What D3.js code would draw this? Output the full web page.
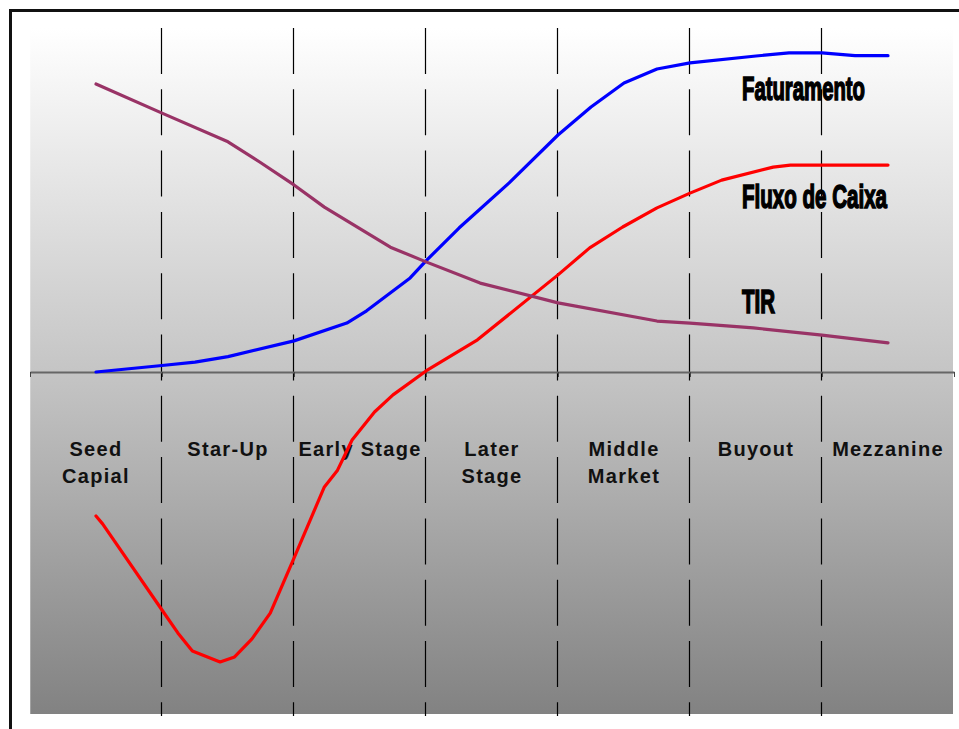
<!DOCTYPE html>
<html>
<head>
<meta charset="utf-8">
<script src="https://cdn.jsdelivr.net/npm/d3@7"></script>
<style>
  body { margin: 0; background: #fff; }
</style>
</head>
<body>
<script>
const stages = ["Seed\nCapial", "Star-Up", "Early Stage", "Later\nStage", "Middle\nMarket", "Buyout", "Mezzanine"];

// positions are in stage units (0.5 = middle of the first stage)
const fatPos = [0.5, 1.0, 1.25, 1.5, 2.0, 2.4, 2.55, 2.88, 3.0, 3.25, 3.63, 4.0, 4.25, 4.5, 4.75, 5.0, 5.5, 5.75, 6.0, 6.25, 6.5];
const fatVal = [0, 1.9, 2.9, 4.5, 9.1, 14.3, 17.9, 27.5, 32.5, 42.1, 55.3, 69.3, 77.5, 84.5, 88.6, 90.4, 92.4, 93.3, 93.3, 92.5, 92.5];

const caixaPos = [0.5, 0.55, 1.0, 1.12, 1.23, 1.44, 1.55, 1.68, 1.82, 2.0, 2.23, 2.33, 2.44, 2.61, 2.75, 3.0, 3.39, 4.0, 4.24, 4.49, 4.75, 5.0, 5.24, 5.63, 5.76, 6.5];
const caixaVal = [-42.1, -44.4, -69.6, -76.3, -81.6, -84.8, -83.3, -78.1, -70.5, -54.4, -33.6, -28.7, -19.9, -11.7, -6.7, 0.3, 9.4, 28.4, 36.3, 42.4, 48.0, 52.3, 56.1, 59.9, 60.5, 60.5];

const tirPos = [0.5, 1.0, 1.5, 1.74, 2.0, 2.23, 2.73, 3.0, 3.41, 4.0, 4.75, 5.0, 5.48, 6.0, 6.5];
const tirVal = [84.2, 75.7, 67.3, 61.4, 54.7, 48.2, 36.5, 32.2, 26.0, 20.2, 14.9, 14.3, 12.9, 10.8, 8.5];

const seriesNames = ["Faturamento", "Fluxo de Caixa", "TIR"];

const w = 959;
const h = 729;

const xBand = d3.scaleBand()
                .domain(stages)
                .range([30, 954]);
const xScale = d3.scaleLinear()
                 .domain([0, stages.length])
                 .range([30, 954]);
const yScale = d3.scaleLinear()
                 .domain([-100, 100])
                 .range([714, 30]);

const svg = d3.select("body")
              .append("svg")
              .attr("width", w)
              .attr("height", h);

const grad = svg.append("defs")
                .append("linearGradient")
                .attr("id", "bg")
                .attr("x1", 0).attr("y1", 0)
                .attr("x2", 0).attr("y2", 1);
grad.append("stop").attr("offset", "0%").attr("stop-color", "#ffffff");
grad.append("stop").attr("offset", "50%").attr("stop-color", "#c5c5c5");
grad.append("stop").attr("offset", "100%").attr("stop-color", "#828282");

// outer frame, cut by the window on the right and bottom
svg.append("rect")
   .attr("x", 10.5)
   .attr("y", 10.5)
   .attr("width", w + 20)
   .attr("height", h + 20)
   .attr("fill", "none")
   .attr("stroke", "#111")
   .attr("stroke-width", 3);

svg.append("rect")
   .attr("x", xScale(0))
   .attr("y", yScale(100) - 2)
   .attr("width", xScale(stages.length) - xScale(0) - 1)
   .attr("height", yScale(-100) - yScale(100) + 2)
   .attr("fill", "url(#bg)");

svg.append("line")
   .attr("x1", xScale(0) - 0.5).attr("x2", xScale(0) - 0.5)
   .attr("y1", yScale(100) - 2).attr("y2", yScale(-100))
   .attr("stroke", "#fff")
   .attr("stroke-width", 1.5);

// stage separators
svg.selectAll(".sep")
   .data(d3.range(1, stages.length))
   .enter()
   .append("line")
   .attr("class", "sep")
   .attr("x1", (d) => Math.round(xScale(d)) - 0.5)
   .attr("x2", (d) => Math.round(xScale(d)) - 0.5)
   .attr("y1", yScale(100) - 2)
   .attr("y2", yScale(-100) + 2)
   .attr("stroke", "#000")
   .attr("stroke-width", 1.2)
   .attr("stroke-dasharray", "46,15.3");

const xAxis = d3.axisBottom(xScale)
                .tickValues(d3.range(0, stages.length + 1))
                .tickSize(5)
                .tickSizeOuter(0)
                .tickFormat("");

svg.append("g")
   .attr("transform", "translate(0, " + yScale(0) + ")")
   .call(xAxis)
   .call((g) => g.select(".domain").attr("stroke", "#666").attr("stroke-width", 2))
   .call((g) => g.selectAll(".tick line").attr("stroke", "#444"));

const stageText = svg.selectAll(".stage")
                     .data(stages)
                     .enter()
                     .append("text")
                     .attr("class", "stage")
                     .attr("x", (d) => xBand(d) + xBand.bandwidth() / 2)
                     .attr("y", 456)
                     .attr("text-anchor", "middle")
                     .attr("font-family", "Liberation Sans, Arial, sans-serif")
                     .attr("font-weight", "bold")
                     .attr("font-size", 20)
                     .attr("letter-spacing", 1.3)
                     .attr("fill", "#111");
stageText.selectAll("tspan")
         .data((d) => d.split("\n"))
         .enter()
         .append("tspan")
         .attr("x", function () { return d3.select(this.parentNode).attr("x"); })
         .attr("dy", (d, i) => i === 0 ? 0 : 26.5)
         .text((d) => d);

const line = d3.line()
               .x((d) => xScale(d[0]))
               .y((d) => yScale(d[1]));

const series = [
  { pos: fatPos, val: fatVal, color: "#0000ff" },
  { pos: caixaPos, val: caixaVal, color: "#ff0000" },
  { pos: tirPos, val: tirVal, color: "#993366" }
];

svg.selectAll(".curve")
   .data(series)
   .enter()
   .append("path")
   .attr("class", "curve")
   .attr("d", (s) => line(s.pos.map((p, i) => [p, s.val[i]])))
   .attr("fill", "none")
   .attr("stroke", (s) => s.color)
   .attr("stroke-width", 3.2)
   .attr("stroke-linejoin", "round")
   .attr("stroke-linecap", "round");

const nameY = [100, 208, 313];
const nameLen = [123, 145, 33];

svg.selectAll(".name")
   .data(seriesNames)
   .enter()
   .append("text")
   .attr("class", "name")
   .attr("x", 742)
   .attr("y", (d, i) => nameY[i])
   .attr("textLength", (d, i) => nameLen[i])
   .attr("lengthAdjust", "spacingAndGlyphs")
   .attr("font-family", "Liberation Sans Narrow, Arial Narrow, Liberation Sans, sans-serif")
   .attr("font-weight", "bold")
   .attr("font-size", 33)
   .attr("fill", "#000")
   .attr("stroke", "#000")
   .attr("stroke-width", 1.6)
   .text((d) => d);
</script>
</body>
</html>
